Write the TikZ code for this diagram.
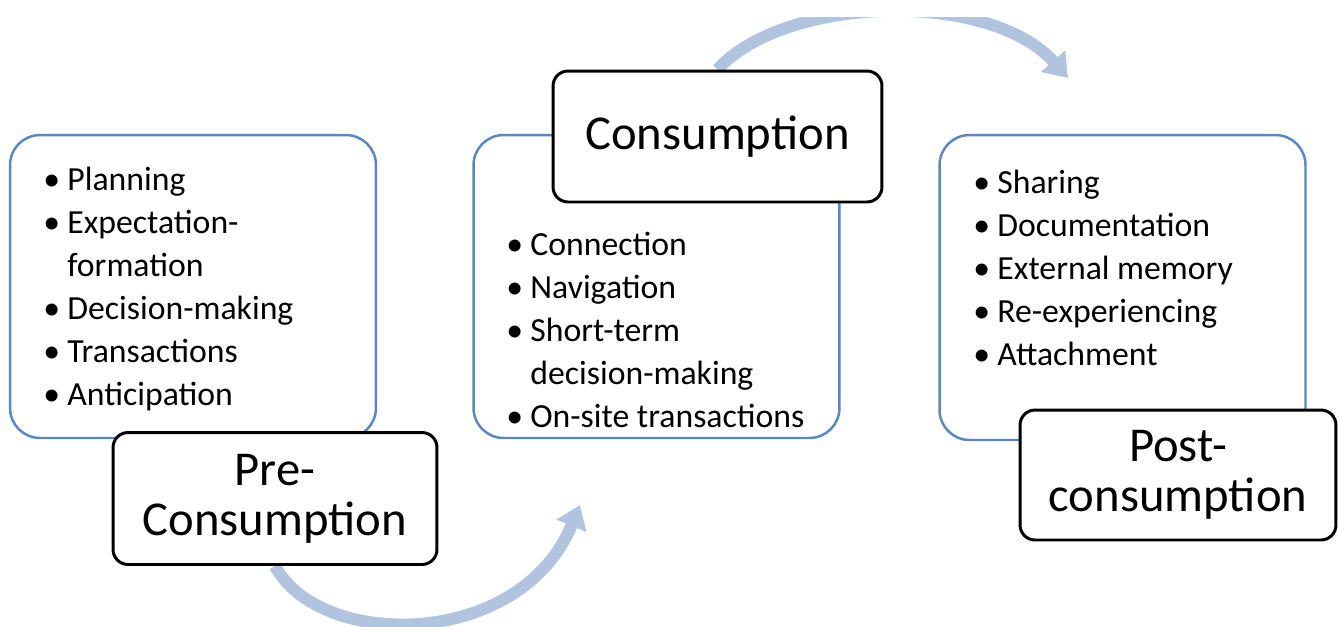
\documentclass[tikz,border=0pt]{standalone}
\usepackage{fontspec}
\setmainfont{Carlito}
\usetikzlibrary{arrows.meta,backgrounds}
\definecolor{frameblue}{RGB}{86,135,200}
\definecolor{arcblue}{RGB}{176,196,224}
\newcommand{\bul}{\makebox[0.48cm][l]{\textbullet}}
\newcommand{\hang}{\hspace*{0.48cm}}
\begin{document}
\begin{tikzpicture}[
  x=0.02cm, y=-0.02cm,
  stage/.style={draw=frameblue, line width=1.4pt, rounded corners=0.6cm, minimum width=7.32cm, minimum height=6.06cm},
  items/.style={anchor=base west, inner sep=0pt, align=left, font=\fontsize{19.2}{24.4}\selectfont},
  phase/.style={draw, fill=white, line width=1.7pt, rounded corners=0.3cm, minimum height=2.64cm, align=center, font=\fontsize{27.7}{28.5}\selectfont},
  backarc/.style={draw=arcblue, line width=0.24cm, -{Triangle[length=0.45cm, width=0.62cm]}}
]
\useasboundingbox (0,0) rectangle (1338,626);
\node[stage] (pre) at (193,286.5) {};
\node[items] (prelist) at (43,405) {\bul Planning\\ \bul Expectation-\\ \hang formation\\ \bul Decision-making\\ \bul Transactions\\ \bul Anticipation};
\node[stage] (con) at (656.5,286.5) {};
\node[items] (conlist) at (506,427) {\bul Connection\\ \bul Navigation\\ \bul Short-term\\ \hang decision-making\\ \bul On-site transactions};
\node[stage, minimum height=6.1cm] (post) at (1122.5,287.5) {};
\node[items] (postlist) at (973,365) {\bul Sharing\\ \bul Documentation\\ \bul External memory\\ \bul Re-experiencing\\ \bul Attachment};
\node[phase, minimum width=6.48cm] (prel) at (275,498.5) {Pre-\\Consumption};
\node[phase, minimum width=6.58cm, minimum height=2.62cm] (conl) at (717.5,136.5) {Consumption};
\node[phase, minimum width=6.32cm, minimum height=2.6cm] (postl) at (1178,475) {Post-\\consumption};
\begin{scope}[on background layer]
\clip (0,17) rectangle (1338,626);
\coordinate (contip) at (580,505);
\coordinate (posttip) at (1068,78);
\draw[backarc] (prel.south) .. controls (320,650) and (520,650) .. (contip);
\draw[backarc] (conl.north) .. controls (785,-5) and (990,-10) .. (posttip);
\end{scope}
\end{tikzpicture}
\end{document}
